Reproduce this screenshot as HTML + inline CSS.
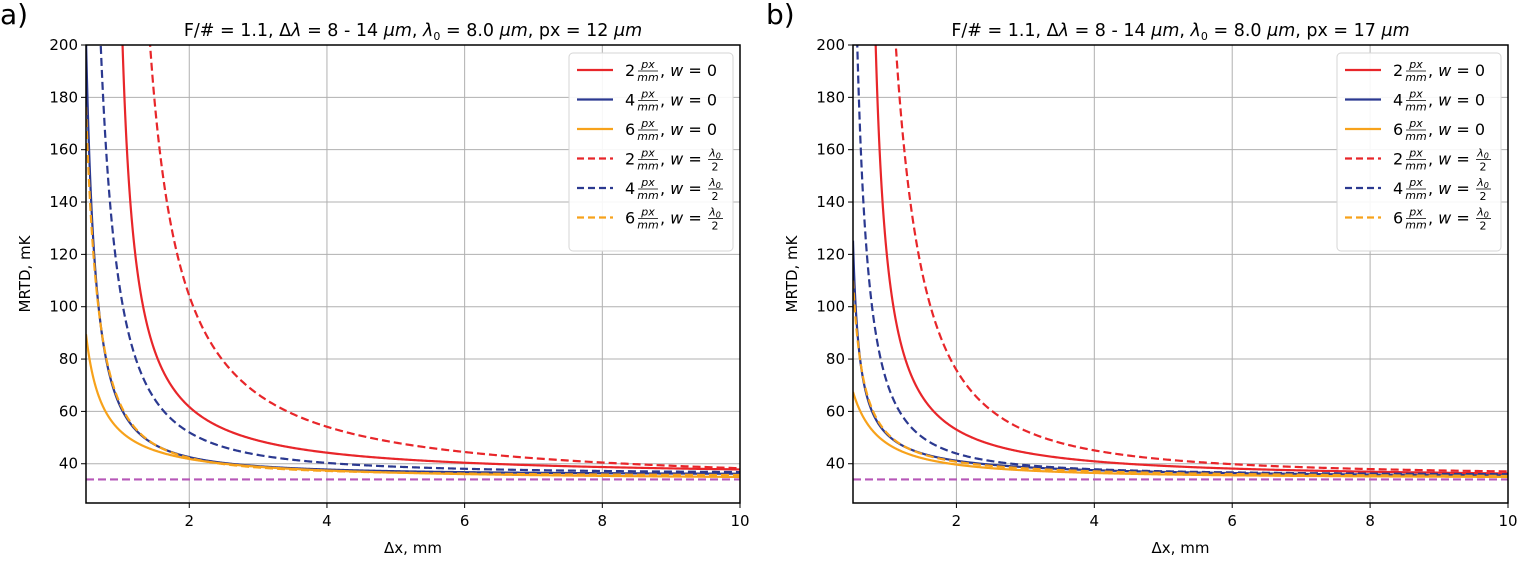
<!DOCTYPE html>
<html><head><meta charset="utf-8">
<style>
body{margin:0;background:#fff;width:1536px;height:576px;overflow:hidden;font-family:"Liberation Sans","DejaVu Sans",sans-serif;}
svg text{font-family:"DejaVu Sans","Liberation Sans",sans-serif;}
</style></head>
<body>
<svg id="chart" width="1536" height="576" xmlns="http://www.w3.org/2000/svg"></svg>
<script>
// ---- data ----
const xTicks=[2,4,6,8,10];
const yTicks=[40,60,80,100,120,140,160,180,200];
const magentaLevel=34;
// Panel a (px = 12 um)
const aRedSolidX=[1.03,1.10,1.15,1.21,1.31,1.5,2,3,4,6,8,10];
const aRedSolidY=[200,160,140,120,100,82,63.2,49,44,40.5,38.7,37.8];
const aRedDashX=[1.44,1.54,1.69,1.86,2.08,2.49,3,4,5,6,8,10];
const aRedDashY=[200,160,140,120,100,80,66,53,47.5,44,40.5,38.8];
const aBlueSolidX=[0.5,0.55,0.58,0.62,0.68,0.78,0.94,1.2,1.5,2,3,4,6,8,10];
const aBlueSolidY=[200,160,140,120,100,80,60,51,47,44,40,38.3,37,36.4,36];
const aBlueDashX=[0.71,0.80,0.86,0.92,1.02,1.18,1.5,2,3,4,6,8,10];
const aBlueDashY=[200,160,140,120,100,80,63,53.6,44.5,40.3,38,37.2,36.8];
const aOrangeSolidX=[0.5,0.6,0.69,0.94,1.2,1.5,2,3,4,6,10];
const aOrangeSolidY=[90,73,65,56,50,45,41,38.5,37,36,35.2];
const aOrangeDashX=[0.5,0.55,0.6,0.68,0.78,0.95,1.5,2,4,10];
const aOrangeDashY=[172,150,125,100,80,60,47,43.5,38,35.6];
// Panel b (px = 17 um)
const bRedSolidX=[0.83,0.93,1.08,1.28,1.51,2,3,4,6,8,10];
const bRedSolidY=[200,140,100,80,64,53.7,44,40.8,38.2,37,36.3];
const bRedDashX=[1.12,1.35,1.58,2,2.52,3,4,6,8,10];
const bRedDashY=[200,140,100,76.6,60,52.5,45.3,40,38,37];
const bBlueSolidX=[0.5,0.6,0.79,1.2,2,4,6,10];
const bBlueSolidY=[125,80,60,47,40.9,37.7,36.5,35.5];
const bBlueDashX=[0.56,0.67,0.77,0.85,1.03,1.5,2,3,4,6,10];
const bBlueDashY=[200,140,100,80,60,50,46,40.5,38.5,37,35.8];
const bOrangeSolidX=[0.5,0.6,1,1.5,2,4,10];
const bOrangeSolidY=[68,60,50,42,38.6,36.5,35];
const bOrangeDashX=[0.5,0.6,0.8,1.2,2,4,10];
const bOrangeDashY=[110,80,60,47,40.6,37.3,35.3];

const NS="http://www.w3.org/2000/svg";
const svg=document.getElementById('chart');
function mk(tag,attrs,parent){const e=document.createElementNS(NS,tag);for(const k in attrs)e.setAttribute(k,attrs[k]);(parent||svg).appendChild(e);return e;}
const RED='#e8262a',BLUE='#2b3990',ORANGE='#f7a21b',MAG='#b657b8';

// fit y = c + k/(x-a)^n to the read points
function fit(xs,ys){
  const minX=Math.min(...xs), minY=Math.min(...ys);
  let best=null;
  for(let ai=0;ai<=60;ai++){
    const a=(minX-0.005)*ai/60;
    for(let ci=0;ci<=24;ci++){
      const c=30+(minY-0.3-30)*ci/24;
      const U=xs.map(x=>Math.log(x-a)), V=ys.map(y=>Math.log(y-c));
      const n=U.length, mu=U.reduce((s,v)=>s+v,0)/n, mv=V.reduce((s,v)=>s+v,0)/n;
      let sxy=0,sxx=0;for(let i=0;i<n;i++){sxy+=(U[i]-mu)*(V[i]-mv);sxx+=(U[i]-mu)**2;}
      const slope=sxy/sxx, lk=mv-slope*mu;
      let err=0;
      for(let i=0;i<n;i++){const p=Math.min(c+Math.exp(lk+slope*U[i]),230);err+=(p-ys[i])**2;}
      if(!best||err<best.err) best={err,a,c,lk,slope};
    }
  }
  return x=>best.c+Math.exp(best.lk+best.slope*Math.log(x-best.a));
}

function panel(id,left,right,label,labelX,titleText,series,legendX){
  const top=45,bottom=503,xmin=0.5,xmax=10,ymin=25,ymax=200;
  const sx=v=>left+(v-xmin)/(xmax-xmin)*(right-left);
  const sy=v=>bottom-(v-ymin)/(ymax-ymin)*(bottom-top);
  const g=mk('g',{});
  
  
  const cp=mk('clipPath',{id:'clip'+id},g);
  mk('rect',{x:left,y:top,width:right-left,height:bottom-top},cp);
  xTicks.forEach(t=>{const l=mk('line',{x1:sx(t),x2:sx(t),y1:top,y2:bottom,stroke:'#b0b0b0','stroke-width':1},g);
    });
  yTicks.forEach(t=>{const l=mk('line',{x1:left,x2:right,y1:sy(t),y2:sy(t),stroke:'#b0b0b0','stroke-width':1},g);
    });
  const cg=mk('g',{'clip-path':'url(#clip'+id+')'},g);
  const mg=mk('line',{x1:left,x2:right,y1:sy(magentaLevel),y2:sy(magentaLevel),stroke:MAG,'stroke-width':2.2,'stroke-dasharray':'8,4'},cg);
  
  series.forEach(s=>{
    const f=fit(s.x,s.y);
    const pts=[];
    for(let k=0;k<=800;k++){
      const x=0.5*Math.pow(10/0.5,k/800);
      let y=f(x); if(!isFinite(y)||y>400) y=400;
      pts.push(sx(x).toFixed(2)+','+sy(y).toFixed(2));
    }
    const path=mk('polyline',{points:pts.join(' '),fill:'none',stroke:s.c,'stroke-width':2.2,'stroke-dasharray':s.dash?'8,4':'none'},cg);
    
    
  });
  const box=mk('rect',{x:left,y:top,width:right-left,height:bottom-top,fill:'none',stroke:'#000','stroke-width':1.5},g);
  
  xTicks.forEach(t=>{mk('line',{x1:sx(t),x2:sx(t),y1:bottom,y2:bottom+5,stroke:'#000'},g);
    const tx=mk('text',{x:sx(t),y:bottom+23,'text-anchor':'middle','font-size':15},g);tx.textContent=t;
    });
  yTicks.forEach(t=>{mk('line',{x1:left-5,x2:left,y1:sy(t),y2:sy(t),stroke:'#000'},g);
    const tx=mk('text',{x:left-8,y:sy(t)+5,'text-anchor':'end','font-size':15},g);tx.textContent=t;
    });
  const xl=mk('text',{x:(left+right)/2,y:553,'text-anchor':'middle','font-size':15},g);xl.textContent='Δx, mm';
  
  const yl=mk('text',{x:0,y:0,'text-anchor':'middle','font-size':15,transform:'translate('+(left-56)+','+((top+bottom)/2)+') rotate(-90)'},g);yl.textContent='MRTD, mK';
  
  const tt=mk('text',{x:(left+right)/2,y:36,'text-anchor':'middle','font-size':17.5},g);
  tt.innerHTML=titleText;
  
  const pl=mk('text',{x:labelX,y:24,'font-size':28},g);pl.textContent=label;
  
  const lg=mk('g',{},g);
  
  mk('rect',{x:legendX,y:53,width:164,height:198,rx:4,fill:'#fff','fill-opacity':0.9,stroke:'#d6d6d6'},lg);
  series.forEach((s,i)=>{
    const y=70+i*29.5;
    const e=mk('g',{},lg);
    
    mk('line',{x1:legendX+8,x2:legendX+44,y1:y,y2:y,stroke:s.c,'stroke-width':2.2,'stroke-dasharray':s.dash?'7,4':'none'},e);
    const n=mk('text',{x:legendX+56,y:y+6,'font-size':16},e);n.textContent=s.n;
    const f1=mk('text',{x:legendX+79,y:y-2,'text-anchor':'middle','font-size':11,'font-style':'italic'},e);f1.textContent='px';
    mk('line',{x1:legendX+69,x2:legendX+89,y1:y+1,y2:y+1,stroke:'#000','stroke-width':0.8},e);
    const f2=mk('text',{x:legendX+79,y:y+11,'text-anchor':'middle','font-size':11,'font-style':'italic'},e);f2.textContent='mm';
    const w=mk('text',{x:legendX+91,y:y+6,'font-size':16},e);
    w.innerHTML=s.dash?', <tspan font-style="italic">w</tspan> =':', <tspan font-style="italic">w</tspan> = 0';
    if(s.dash){
      const l1=mk('text',{x:legendX+146,y:y-2,'text-anchor':'middle','font-size':11,'font-style':'italic'},e);l1.innerHTML='λ<tspan font-size="8" dy="2">0</tspan>';
      mk('line',{x1:legendX+139,x2:legendX+154,y1:y+1,y2:y+1,stroke:'#000','stroke-width':0.8},e);
      const l2=mk('text',{x:legendX+146,y:y+12,'text-anchor':'middle','font-size':11},e);l2.textContent='2';
    }
  });
}
const title12='F/# = 1.1, Δ<tspan font-style="italic">λ</tspan> = 8 - 14 <tspan font-style="italic">μm</tspan>, <tspan font-style="italic">λ</tspan><tspan font-size="11" dy="4">0</tspan><tspan dy="-4"> = 8.0 </tspan><tspan font-style="italic">μm</tspan>, px = 12 <tspan font-style="italic">μm</tspan>';
const title17=title12.replace('px = 12','px = 17');
panel('a',86,740,'a)',0,title12,[
 {name:'line-2px-w0',x:aRedSolidX,y:aRedSolidY,c:RED,dash:false,n:'2'},
 {name:'line-4px-w0',x:aBlueSolidX,y:aBlueSolidY,c:BLUE,dash:false,n:'4'},
 {name:'line-6px-w0',x:aOrangeSolidX,y:aOrangeSolidY,c:ORANGE,dash:false,n:'6'},
 {name:'line-2px-whalf',x:aRedDashX,y:aRedDashY,c:RED,dash:true,n:'2'},
 {name:'line-4px-whalf',x:aBlueDashX,y:aBlueDashY,c:BLUE,dash:true,n:'4'},
 {name:'line-6px-whalf',x:aOrangeDashX,y:aOrangeDashY,c:ORANGE,dash:true,n:'6'}],569);
panel('b',853,1508,'b)',766,title17,[
 {name:'line-2px-w0',x:bRedSolidX,y:bRedSolidY,c:RED,dash:false,n:'2'},
 {name:'line-4px-w0',x:bBlueSolidX,y:bBlueSolidY,c:BLUE,dash:false,n:'4'},
 {name:'line-6px-w0',x:bOrangeSolidX,y:bOrangeSolidY,c:ORANGE,dash:false,n:'6'},
 {name:'line-2px-whalf',x:bRedDashX,y:bRedDashY,c:RED,dash:true,n:'2'},
 {name:'line-4px-whalf',x:bBlueDashX,y:bBlueDashY,c:BLUE,dash:true,n:'4'},
 {name:'line-6px-whalf',x:bOrangeDashX,y:bOrangeDashY,c:ORANGE,dash:true,n:'6'}],1337);
</script>
</body></html>
